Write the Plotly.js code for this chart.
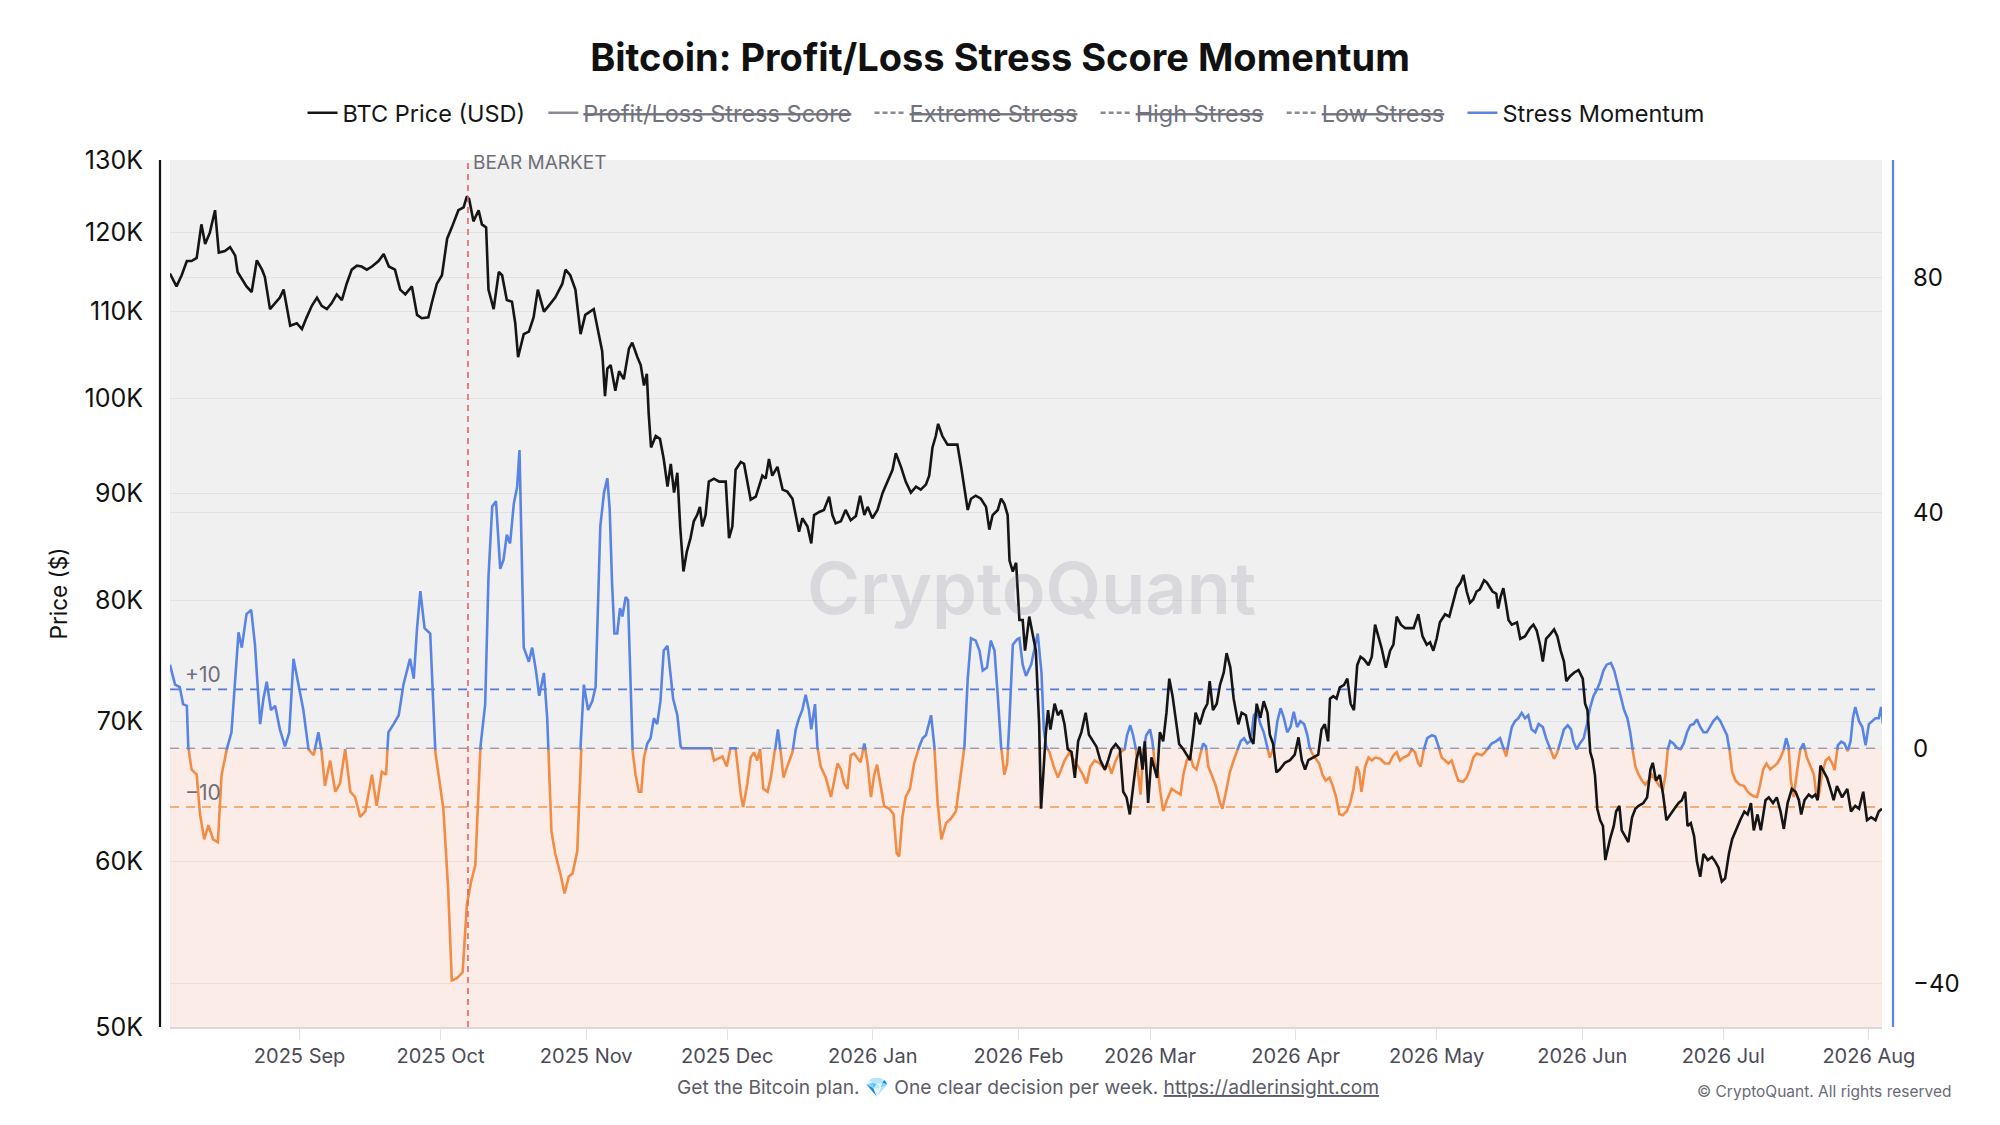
<!DOCTYPE html>
<html>
<head>
<meta charset="utf-8">
<script src="https://cdn.plot.ly/plotly-3.0.1.min.js"></script>
<style>
  html, body { margin: 0; padding: 0; background: #ffffff; }
  #chart { width: 2000px; height: 1125px; }
</style>
</head>
<body>
<div id="chart"></div>
<script>
// day offsets are counted from 2025-08-04 (00:00 UTC)
var startDate = Date.UTC(2025, 7, 4);

// BTC price, thousands of USD
var priceDay = [0.4, 1.8, 2.9, 4.0, 5.0, 6.1, 7.1, 7.9, 8.9, 10.0, 10.8, 12.1, 13.2, 14.3, 14.8, 16.0, 16.7, 17.8, 18.9, 20.0,
  20.6, 21.7, 22.8, 23.8, 24.6, 25.3, 26.0, 27.4, 28.5, 29.5, 30.6, 31.7, 32.7, 33.8, 34.8, 35.9, 37.0, 38.0, 39.1, 40.2,
  41.2, 42.3, 43.4, 44.8, 45.9, 47.0, 48.3, 49.4, 50.5, 51.9, 53.0, 54.0, 55.4, 56.2, 57.2, 58.3, 59.4, 60.4, 61.8, 62.9,
  63.6, 64.1, 65.0, 66.1, 66.8, 67.7, 68.2, 69.3, 70.4, 71.1, 72.1, 73.2, 73.9, 74.5, 75.7, 76.8, 77.8, 78.7, 80.0, 81.0,
  82.4, 83.9, 84.6, 85.6, 86.7, 87.8, 88.8, 90.6, 91.7, 92.4, 93.0, 93.5, 94.2, 95.2, 96.0, 97.0, 98.1, 98.8, 99.9, 100.6,
  101.3, 101.9, 102.3, 102.8, 103.8, 104.7, 105.5, 106.3, 107.0, 107.7, 108.4, 109.0, 109.7, 110.4, 111.2, 111.9, 112.6, 113.2, 113.7, 114.4,
  115.1, 116.2, 117.3, 118.7, 119.4, 120.1, 120.8, 121.9, 122.6, 123.3, 124.0, 125.1, 125.8, 126.5, 127.2, 127.9, 128.6, 129.7, 130.8, 131.8,
  132.9, 133.6, 134.3, 135.0, 136.1, 136.9, 137.5, 138.6, 139.6, 140.7, 141.4, 142.1, 143.2, 144.2, 145.3, 146.4, 147.3, 148.2, 148.9, 149.9,
  151.0, 152.1, 153.1, 154.2, 154.9, 156.0, 157.0, 158.1, 159.2, 160.2, 161.3, 162.0, 162.7, 163.4, 163.9, 164.8, 165.9, 166.9, 168.0, 168.8,
  169.5, 170.2, 170.9, 171.9, 173.0, 174.1, 174.8, 175.5, 176.6, 177.3, 178.0, 178.7, 179.1, 179.8, 180.5, 181.2, 181.9, 182.4, 183.3, 184.2,
  184.7, 185.4, 185.8, 186.2, 186.8, 187.3, 187.8, 188.7, 189.4, 190.1, 190.8, 191.5, 192.3, 193.0, 193.7, 194.4, 195.3, 196.0, 196.9, 197.6,
  198.4, 199.4, 200.1, 200.8, 201.7, 202.6, 203.3, 204.0, 204.7, 205.4, 206.1, 206.8, 207.4, 207.9, 208.6, 209.3, 210.0, 210.5, 211.1, 211.8,
  212.5, 213.1, 213.8, 214.5, 215.2, 216.1, 216.8, 217.5, 218.2, 218.7, 219.6, 220.5, 221.2, 221.7, 222.4, 223.2, 223.9, 224.7, 225.3, 226.1,
  226.8, 227.8, 228.5, 229.4, 230.3, 231.0, 231.7, 232.5, 233.2, 234.0, 234.5, 235.2, 235.9, 236.6, 237.7, 238.8, 239.8, 240.6, 241.3, 242.0,
  242.7, 243.7, 244.8, 245.5, 246.2, 246.9, 247.3, 248.0, 248.7, 249.4, 250.3, 251.0, 251.7, 252.4, 253.1, 253.8, 254.5, 255.5, 256.2, 256.9,
  257.6, 258.3, 259.2, 260.1, 260.8, 261.5, 262.4, 263.3, 264.2, 265.1, 266.1, 267.0, 267.9, 268.6, 269.3, 270.0, 270.7, 271.8, 272.7, 273.4,
  274.3, 275.1, 275.7, 276.4, 277.1, 277.8, 278.5, 279.2, 280.1, 280.7, 281.2, 281.9, 282.7, 283.1, 283.6, 284.2, 284.8, 285.3, 286.0, 287.1,
  287.8, 288.8, 289.9, 290.6, 291.3, 292.0, 292.6, 293.3, 294.2, 295.0, 295.7, 296.4, 297.1, 297.6, 298.4, 299.3, 300.2, 301.1, 301.6, 302.1,
  302.7, 303.2, 303.7, 304.2, 304.8, 305.4, 305.9, 306.4, 306.9, 307.7, 308.2, 308.9, 309.4, 310.1, 310.8, 311.6, 312.3, 313.0, 314.0, 314.8,
  315.5, 316.0, 316.7, 317.5, 318.2, 318.9, 319.7, 320.6, 321.5, 322.2, 322.9, 323.4, 324.1, 324.8, 325.4, 326.1, 326.8, 327.7, 328.6, 329.3,
  330.0, 330.7, 331.4, 332.2, 332.9, 333.8, 334.6, 335.5, 336.2, 336.9, 337.5, 338.3, 339.0, 340.0, 340.7, 341.6, 342.4, 343.2, 343.9, 344.7,
  345.6, 346.4, 347.1, 347.6, 348.3, 349.2, 349.9, 350.6, 351.1, 351.7, 352.4, 353.1, 354.0, 354.5, 355.2, 356.3, 357.4, 358.2, 359.1, 359.9,
  360.8, 361.6, 362.5, 363.4, 364.1, 364.8];
var priceK = [114.7, 113.1, 114.5, 116.3, 116.3, 116.7, 121.1, 118.5, 120.0, 123.0, 117.4, 117.6, 118.1, 117.0, 114.9, 113.8, 113.1, 112.4, 116.4, 115.2,
  114.3, 110.3, 111.0, 111.7, 112.7, 110.3, 108.3, 108.6, 107.9, 109.3, 110.7, 111.7, 110.7, 110.3, 111.0, 112.1, 111.4, 113.4, 115.2, 115.7,
  115.6, 115.2, 115.6, 116.3, 117.2, 115.6, 115.2, 112.7, 112.1, 113.1, 109.6, 109.2, 109.3, 111.2, 113.4, 114.5, 119.2, 120.7, 123.0, 123.4,
  124.9, 124.5, 121.5, 123.0, 121.1, 120.7, 112.7, 110.3, 114.9, 114.5, 111.4, 111.2, 108.6, 104.6, 107.3, 107.6, 109.3, 112.7, 110.0, 110.7,
  111.7, 113.4, 115.2, 114.5, 112.7, 107.3, 109.6, 110.3, 107.3, 105.3, 100.2, 103.3, 103.7, 100.8, 103.0, 102.1, 105.6, 106.3, 104.6, 103.7,
  101.4, 102.7, 98.3, 94.7, 95.9, 95.6, 93.5, 90.7, 93.0, 90.1, 92.1, 86.8, 82.6, 84.4, 85.7, 87.3, 87.9, 88.7, 86.8, 87.9,
  91.2, 91.5, 91.2, 91.2, 85.7, 86.8, 92.4, 93.2, 93.0, 91.2, 89.4, 89.7, 90.7, 91.8, 91.5, 93.5, 91.8, 92.7, 90.4, 90.2,
  89.5, 87.9, 86.3, 87.6, 86.8, 85.2, 87.9, 88.2, 88.4, 89.7, 87.9, 87.1, 87.3, 88.4, 87.4, 87.8, 89.8, 87.9, 88.7, 87.6,
  88.4, 90.1, 91.2, 92.4, 94.1, 92.7, 91.2, 90.1, 90.7, 90.4, 90.9, 91.8, 94.7, 95.9, 97.2, 95.9, 95.0, 95.0, 95.0, 92.7,
  90.7, 88.4, 89.5, 89.8, 89.5, 88.7, 86.5, 87.9, 88.4, 89.5, 89.0, 87.9, 83.6, 82.6, 83.4, 78.3, 78.3, 75.7, 78.6, 76.7,
  75.7, 69.8, 63.6, 65.6, 69.0, 70.9, 69.4, 71.4, 70.5, 70.9, 69.8, 67.9, 67.7, 65.8, 68.5, 69.2, 70.7, 69.0, 68.5, 68.1,
  67.1, 66.4, 67.1, 67.9, 68.3, 67.9, 64.8, 64.4, 63.2, 65.0, 67.1, 68.1, 66.4, 68.5, 64.0, 67.3, 66.4, 65.8, 69.2, 68.5,
  70.7, 73.4, 72.0, 70.3, 68.3, 67.9, 67.5, 67.1, 69.0, 70.7, 69.8, 70.9, 71.4, 73.2, 70.9, 71.4, 72.9, 73.9, 75.5, 74.3,
  71.8, 69.8, 70.7, 70.5, 68.8, 68.3, 71.4, 70.3, 71.6, 70.7, 69.0, 68.3, 66.2, 66.4, 66.9, 67.1, 67.5, 68.8, 67.1, 66.4,
  67.1, 67.3, 67.5, 69.4, 69.8, 68.5, 71.8, 72.0, 71.8, 72.7, 72.9, 73.4, 71.4, 70.9, 74.5, 75.2, 75.0, 74.5, 75.2, 77.9,
  76.9, 75.9, 74.3, 75.7, 76.2, 78.6, 77.9, 77.6, 77.6, 77.6, 78.8, 76.9, 76.2, 76.4, 75.7, 76.7, 78.1, 78.8, 78.6, 79.8,
  81.1, 81.6, 82.3, 80.8, 79.8, 80.1, 80.8, 81.0, 81.8, 81.6, 81.3, 80.8, 80.6, 79.3, 80.3, 81.1, 79.6, 78.3, 77.9, 78.1,
  76.7, 76.9, 77.6, 77.9, 77.4, 76.2, 74.8, 76.7, 77.1, 77.5, 76.9, 75.7, 74.8, 73.2, 73.6, 73.9, 74.1, 73.4, 71.4, 70.9,
  67.7, 67.1, 66.0, 63.6, 62.8, 62.4, 60.1, 60.9, 61.5, 62.4, 63.4, 63.8, 62.1, 61.7, 61.3, 63.0, 63.6, 63.8, 64.0, 64.4,
  66.4, 66.9, 65.6, 66.0, 64.6, 62.8, 63.2, 63.6, 64.0, 64.2, 64.8, 62.4, 62.6, 61.7, 60.0, 59.0, 60.5, 60.1, 60.3, 60.0,
  59.6, 58.7, 58.9, 60.5, 61.5, 62.2, 62.8, 63.4, 63.2, 64.0, 62.1, 63.2, 62.1, 64.2, 64.4, 64.0, 64.4, 63.4, 62.2, 64.0,
  65.0, 64.8, 64.2, 63.2, 64.2, 64.6, 64.4, 64.6, 64.2, 66.7, 66.2, 65.8, 64.8, 64.2, 65.2, 64.4, 65.0, 63.4, 63.8, 63.6,
  64.8, 62.8, 63.0, 62.8, 63.4, 63.6];

// Stress Momentum
var momentumDay = [0.4, 1.5, 2.5, 3.2, 4.0, 4.3, 5.0, 6.1, 6.8, 7.7, 8.6, 9.6, 10.6, 11.4, 12.5, 13.5, 14.3, 15.0, 15.7, 16.7,
  17.7, 18.5, 19.6, 20.3, 21.0, 21.9, 22.8, 23.8, 24.9, 25.8, 26.7, 27.8, 28.8, 29.9, 31.0, 32.0, 32.7, 33.4, 34.5, 35.6,
  36.6, 37.7, 38.8, 39.8, 40.9, 42.0, 43.4, 44.4, 45.5, 46.4, 46.9, 48.0, 49.1, 50.1, 51.5, 52.3, 53.0, 53.7, 54.6, 55.8,
  56.9, 57.6, 58.6, 59.6, 60.4, 61.5, 62.7, 63.6, 64.5, 65.4, 66.5, 67.5, 68.2, 69.0, 69.8, 70.7, 71.4, 72.1, 72.8, 73.6,
  74.3, 74.8, 75.7, 76.8, 77.5, 78.3, 79.0, 80.0, 80.7, 81.6, 82.4, 83.5, 84.4, 85.3, 86.1, 87.1, 87.8, 88.5, 89.4, 90.3,
  91.0, 92.0, 92.8, 93.5, 94.0, 94.5, 95.0, 95.6, 96.2, 96.7, 97.4, 97.9, 98.4, 98.9, 99.5, 100.2, 100.7, 101.3, 102.0, 102.7,
  103.4, 104.1, 104.8, 105.5, 106.3, 107.0, 107.5, 108.4, 109.1, 109.4, 115.6, 116.2, 117.3, 118.0, 118.9, 119.7, 120.8, 121.3, 121.9, 122.4,
  123.3, 124.0, 124.7, 125.4, 126.0, 126.7, 127.6, 128.3, 129.0, 129.8, 130.4, 131.0, 131.8, 132.9, 133.6, 134.3, 135.0, 135.7, 136.4, 136.9,
  137.7, 138.2, 138.9, 140.0, 141.1, 141.8, 142.5, 143.2, 143.9, 144.6, 145.3, 146.0, 146.7, 147.4, 148.2, 148.9, 149.6, 150.3, 150.9, 151.6,
  152.4, 153.5, 154.4, 155.1, 155.6, 156.3, 157.0, 157.9, 158.8, 159.9, 160.6, 161.3, 162.4, 163.1, 163.8, 164.6, 165.6, 166.6, 167.7, 168.8,
  169.5, 170.2, 170.9, 171.9, 172.7, 173.4, 174.3, 175.1, 175.9, 176.6, 177.3, 178.0, 178.6, 179.1, 179.8, 180.7, 181.2, 181.9, 182.6, 183.7,
  184.4, 185.1, 185.9, 186.4, 186.9, 187.6, 188.5, 189.4, 190.1, 190.8, 191.9, 192.8, 193.7, 194.7, 195.5, 196.3, 197.2, 198.3, 199.4, 200.1,
  200.8, 201.7, 202.6, 203.6, 204.1, 204.8, 205.4, 206.0, 206.5, 207.0, 207.5, 208.2, 209.0, 209.5, 210.0, 210.7, 211.2, 211.8, 212.6, 213.6,
  214.5, 215.5, 216.1, 216.8, 217.5, 218.2, 218.9, 219.6, 220.3, 220.9, 221.4, 222.1, 223.0, 223.9, 224.4, 225.3, 226.0, 226.8, 227.6, 228.3,
  229.0, 229.7, 230.4, 231.1, 231.8, 232.5, 233.2, 233.9, 234.5, 235.4, 236.1, 236.8, 237.5, 238.2, 238.9, 239.6, 240.3, 241.0, 241.8, 242.5,
  242.9, 243.4, 244.1, 245.0, 245.7, 246.4, 247.2, 247.9, 248.6, 249.3, 250.0, 250.9, 251.6, 252.3, 253.0, 253.5, 254.0, 254.8, 255.5, 256.2,
  256.9, 258.0, 259.0, 259.9, 260.8, 261.5, 262.2, 262.9, 264.0, 264.7, 265.4, 266.1, 266.6, 267.3, 268.0, 269.0, 269.7, 270.4, 271.1, 271.8,
  272.5, 273.2, 273.9, 274.6, 275.6, 276.4, 277.1, 277.8, 278.5, 279.6, 280.3, 281.0, 281.7, 282.7, 283.5, 284.1, 284.8, 285.3, 286.0, 286.7,
  287.4, 288.1, 288.8, 289.5, 290.2, 291.0, 291.7, 292.6, 293.3, 294.2, 295.0, 295.7, 296.4, 297.1, 297.9, 298.6, 299.1, 299.8, 300.5, 301.3,
  302.0, 302.7, 303.4, 304.1, 304.8, 305.5, 306.2, 307.1, 307.8, 308.5, 309.2, 309.9, 310.6, 311.2, 311.8, 312.3, 313.0, 313.7, 314.4, 315.1,
  315.8, 316.5, 317.4, 318.2, 318.7, 319.2, 319.7, 320.4, 321.1, 321.9, 322.6, 323.3, 324.0, 324.7, 325.4, 326.1, 326.8, 327.5, 328.2, 328.9,
  329.7, 330.4, 331.1, 331.8, 332.4, 332.9, 333.6, 334.5, 335.4, 336.2, 336.9, 337.6, 338.2, 338.8, 339.5, 340.2, 341.0, 341.7, 342.5, 343.2,
  343.9, 344.4, 344.9, 345.4, 346.0, 346.7, 347.4, 348.1, 348.8, 349.6, 350.3, 350.8, 351.3, 352.0, 352.8, 353.5, 354.2, 354.7, 355.4, 356.1,
  356.8, 357.5, 358.1, 358.6, 359.1, 359.9, 360.6, 361.3, 362.0, 362.7, 363.4, 364.1, 364.6, 365.0];
var momentumValue = [14.2, 10.8, 10.4, 7.5, 7.2, 0.3, -3.6, -4.5, -11.2, -15.5, -13.1, -15.5, -16.0, -4.5, -0.2, 2.7, 11.8, 19.7, 17.1, 22.8,
  23.5, 17.6, 4.1, 8.4, 11.3, 6.5, 7.2, 3.2, 0.3, 2.7, 15.2, 10.4, 6.5, -0.2, -1.2, 2.7, -0.7, -6.4, -2.1, -7.4,
  -6.0, -0.2, -7.4, -8.3, -11.7, -10.7, -4.5, -9.8, -4.0, -4.5, 2.7, 4.1, 5.6, 10.8, 15.2, 11.8, 20.4, 26.7, 20.4, 19.5,
  -0.7, -4.5, -10.3, -23.7, -39.5, -39.1, -38.1, -26.6, -22.7, -19.9, 0.3, 7.5, 29.1, 41.1, 42.0, 30.5, 32.0, 36.3, 34.8, 41.6,
  44.4, 50.7, 17.1, 14.7, 17.1, 13.2, 8.9, 12.8, 5.1, -14.1, -17.9, -21.3, -24.7, -21.8, -21.3, -17.5, 0.3, 10.8, 6.5, 8.0,
  10.4, 37.7, 43.5, 45.9, 40.6, 28.1, 19.5, 19.5, 23.8, 22.4, 25.7, 25.2, 10.8, -0.7, -4.5, -7.4, -7.4, -1.6, 0.8, 1.7,
  5.1, 4.1, 8.0, 16.6, 17.4, 11.8, 8.4, 5.6, 0.3, 0.0, 0.0, -2.1, -1.6, -1.4, -3.1, 0.0, 0.0, -3.6, -7.9, -10.0,
  -6.0, -1.6, -0.7, -2.1, -0.2, -6.9, -7.4, -5.0, -1.6, 3.2, -0.7, -5.0, -3.1, -0.7, 3.2, 5.1, 6.5, 9.1, 6.5, 3.2,
  7.5, 0.3, -3.1, -5.0, -8.3, -5.5, -2.6, -3.6, -6.0, -6.9, -1.2, -0.9, -1.6, -2.4, 0.8, -2.6, -8.3, -4.5, -2.8, -6.4,
  -9.8, -10.3, -11.2, -17.9, -18.4, -11.7, -8.3, -6.9, -2.6, 0.3, 1.7, 2.2, 5.6, 0.3, -9.3, -15.5, -12.7, -12.0, -10.7, -4.0,
  0.3, 11.8, 18.7, 18.3, 16.6, 13.2, 13.7, 18.3, 16.6, 8.9, 0.3, -4.5, -2.6, 5.1, 17.6, 18.5, 18.7, 14.2, 12.3, 14.2,
  17.1, 19.5, 12.8, 3.2, 0.3, -0.7, -3.1, -5.0, -3.6, -2.1, -0.7, -2.1, -3.1, -4.5, -6.0, -3.1, -2.1, -2.6, -3.6, -2.6,
  -4.3, -2.1, -0.7, -0.2, 2.2, 3.9, 2.2, -0.2, -4.5, -7.9, -0.7, 2.2, 3.2, 1.2, -2.6, -4.0, -7.4, -10.7, -8.8, -6.9,
  -7.4, -7.9, -4.5, -2.1, -1.2, -3.1, -3.6, -1.6, 0.8, 0.3, -3.1, -4.5, -6.4, -9.3, -10.3, -6.9, -4.0, -2.1, -0.2, 1.2,
  1.7, 0.8, 1.2, 5.6, 6.2, 4.1, 2.7, 0.3, -1.6, 0.3, 4.6, 6.8, 5.1, 2.7, 3.6, 6.2, 3.6, 4.6, 4.1, 2.2,
  0.3, -0.7, -1.6, -2.6, -4.5, -5.5, -5.0, -6.4, -8.3, -11.2, -11.4, -10.7, -9.3, -6.9, -3.1, -4.0, -7.4, -3.1, -1.6, -2.1,
  -1.6, -1.8, -2.6, -2.6, -1.2, -0.7, -2.1, -1.6, -1.2, -0.2, -0.7, -2.6, -3.1, -0.2, 1.7, 2.2, 2.0, 0.3, -1.6, -2.1,
  -2.6, -2.1, -4.0, -5.5, -5.7, -5.0, -3.6, -1.6, -0.9, -1.2, -0.7, 0.1, 0.8, 1.2, 1.7, 0.3, -1.4, 0.8, 3.6, 4.6,
  5.1, 6.0, 5.1, 5.6, 3.2, 2.7, 4.1, 3.6, 1.7, -0.2, -1.8, -0.7, 1.2, 3.2, 3.9, 3.2, 1.2, -0.2, 0.8, 1.7,
  4.1, 7.0, 8.9, 9.9, 11.3, 13.2, 14.2, 14.5, 13.2, 10.8, 8.4, 6.5, 5.1, 2.7, -0.7, -3.1, -4.5, -5.5, -6.2, -5.5,
  -4.5, -5.3, -6.4, -6.9, -4.5, -0.2, 1.2, 0.8, 0.1, -0.2, 0.8, 2.7, 3.9, 4.1, 4.9, 3.6, 2.7, 2.7, 3.6, 4.6,
  5.3, 4.6, 3.4, 2.2, -0.7, -4.0, -5.5, -6.2, -6.4, -7.4, -7.9, -8.2, -8.3, -6.4, -3.6, -2.6, -3.6, -3.1, -2.6, -1.6,
  -0.2, 1.7, 0.3, -5.5, -8.3, -4.0, -0.2, 0.8, -1.6, -3.1, -4.5, -7.9, -8.3, -4.5, -2.1, -1.6, -2.6, -3.7, 0.5, 1.1,
  0.8, -0.5, 1.2, 5.1, 7.0, 4.6, 3.6, 0.5, 4.1, 4.6, 5.1, 5.1, 7.0, 4.1];

// axis ticks and reference lines
var priceTicks = [50000, 60000, 70000, 80000, 90000, 100000, 110000, 120000, 130000];
var priceTickText = ['50K', '60K', '70K', '80K', '90K', '100K', '110K', '120K', '130K'];
var momentumTicksUp = [0, 40, 80];
var momentumTicksDown = [-40];
var stressLines = [10, 0, -10];
var bearMarketDate = '2025-10-06 20:00';

function toDate(day) {
  return new Date(startDate + day * 86400000).toISOString().slice(0, 19).replace('T', ' ');
}

var priceX = priceDay.map(toDate);
var priceY = priceK.map(function (v) { return v * 1000; });
var momentumX = momentumDay.map(toDate);

var FONT = 'Inter, "Noto Sans", sans-serif';
var BLUE = '#5a84e4';
var ORANGE = '#f28c45';
var GAP = '\u00A0\u00A0';   // extra room between legend entries

// momentum axes: the blue part lives in the upper subplot, the orange part in the lower one,
// so each colour gets clipped at the zero line
var momTop = 100, momBottom = -47.4;
var zeroFrac = -momBottom / (momTop - momBottom);
var pad = 0.0018;
var upperLow = -pad * momTop / (1 - zeroFrac);

// plot box in pixels, used to place the footer texts
var M = { l: 170, r: 118, t: 160, b: 98 };
var plotW = 2000 - M.l - M.r, plotH = 1125 - M.t - M.b;
function px(x) { return (x - M.l) / plotW; }
function py(y) { return (1125 - M.b - y) / plotH; }

// series that are switched off in the original: legend entry only, nothing plotted
function hiddenTrace(txt, dash) {
  return {
    x: [null], y: [null], xaxis: 'x', yaxis: 'y2', type: 'scatter', mode: 'lines',
    name: '<span style="color:#72727d"><s>' + txt + '</s>' + GAP + '</span>', hoverinfo: 'skip',
    line: { color: '#8a8a96', width: 2.5, dash: dash }
  };
}

var traces = [
  {
    x: priceX, y: priceY, xaxis: 'x', yaxis: 'y3',
    type: 'scatter', mode: 'lines', name: 'BTC Price (USD)' + GAP,
    line: { color: '#151515', width: 2.6 }
  },
  hiddenTrace('Profit/Loss Stress Score', 'solid'),
  hiddenTrace('Extreme Stress', '5px,3px'),
  hiddenTrace('High Stress', '5px,3px'),
  hiddenTrace('Low Stress', '5px,3px'),
  {
    x: momentumX, y: momentumValue, xaxis: 'x', yaxis: 'y2',
    type: 'scatter', mode: 'lines', name: 'Stress Momentum',
    line: { color: BLUE, width: 2.6 }
  },
  {
    x: momentumX, y: momentumValue, xaxis: 'x', yaxis: 'y',
    type: 'scatter', mode: 'lines', name: 'Stress Momentum', showlegend: false,
    line: { color: ORANGE, width: 2.6 }
  }
];

var grid = 'rgba(0,0,0,0.055)';

var layout = {
  width: 2000,
  height: 1125,
  margin: M,
  paper_bgcolor: '#ffffff',
  plot_bgcolor: 'rgba(0,0,0,0)',
  font: { family: FONT, color: '#111111' },
  showlegend: true,
  title: {
    text: 'Bitcoin: Profit/Loss Stress Score Momentum',
    font: { family: FONT, size: 38, weight: 700, color: '#111111' },
    x: 0.5, xref: 'container', xanchor: 'center',
    y: 1 - 58 / 1125, yref: 'container', yanchor: 'middle'
  },
  legend: {
    orientation: 'h',
    x: 0.503, xref: 'container', xanchor: 'center',
    y: 1 - 113 / 1125, yref: 'container', yanchor: 'middle',
    font: { family: FONT, size: 23.5, color: '#151515' },
    itemwidth: 30,
    bgcolor: 'rgba(0,0,0,0)'
  },
  xaxis: {
    type: 'date',
    anchor: 'y3',
    range: ['2025-08-04 10:00', '2026-08-03 19:00'],
    tick0: '2025-09-01',
    dtick: 'M1',
    tickformat: '%Y %b',
    ticks: 'outside',
    ticklen: 11,
    tickcolor: '#e2e2e6',
    ticklabelstandoff: -1,
    tickfont: { family: FONT, size: 20, color: '#4b4b57' },
    showgrid: false,
    zeroline: false,
    showline: true,
    linecolor: '#dcd7de',
    linewidth: 2
  },
  yaxis: {
    domain: [0, zeroFrac],
    range: [momBottom, 0],
    anchor: 'x',
    side: 'right',
    tickvals: momentumTicksDown,
    tickfont: { family: FONT, size: 24, color: '#111111' },
    ticklabelstandoff: 30,
    showgrid: true,
    gridcolor: grid,
    zeroline: false,
    showline: false
  },
  yaxis2: {
    domain: [zeroFrac - pad, 1],
    range: [upperLow, momTop],
    anchor: 'x',
    side: 'right',
    tickvals: momentumTicksUp,
    tickfont: { family: FONT, size: 24, color: '#111111' },
    ticklabelstandoff: 30,
    showgrid: true,
    gridcolor: grid,
    zeroline: false,
    showline: false
  },
  yaxis3: {
    domain: [0, 1],
    type: 'log',
    range: [Math.log10(50000), Math.log10(130000)],
    anchor: 'x',
    side: 'left',
    tickvals: priceTicks,
    ticktext: priceTickText,
    tickfont: { family: FONT, size: 25, color: '#111111' },
    ticklabelstandoff: 26,
    showgrid: true,
    gridcolor: grid,
    zeroline: false,
    showline: false,
    title: {
      text: 'Price ($)',
      font: { family: FONT, size: 22.5, color: '#111111' },
      standoff: 10
    }
  },
  shapes: [
    // background bands above / below zero momentum
    { type: 'rect', layer: 'below', xref: 'paper', x0: 0, x1: 1, yref: 'y2', y0: 0, y1: momTop,
      fillcolor: '#f0f0f0', line: { width: 0 } },
    { type: 'rect', layer: 'below', xref: 'paper', x0: 0, x1: 1, yref: 'y', y0: momBottom, y1: 0,
      fillcolor: '#fcece8', line: { width: 0 } },
    // stress reference lines
    { type: 'line', layer: 'below', xref: 'paper', x0: 0, x1: 1, yref: 'y2', y0: stressLines[0], y1: stressLines[0],
      line: { color: '#5679d8', width: 1.6, dash: '9px,7px' } },
    { type: 'line', layer: 'below', xref: 'paper', x0: 0, x1: 1, yref: 'y2', y0: stressLines[1], y1: stressLines[1],
      line: { color: '#a8a5b6', width: 1.6, dash: '9px,7px' } },
    { type: 'line', layer: 'below', xref: 'paper', x0: 0, x1: 1, yref: 'y', y0: stressLines[2], y1: stressLines[2],
      line: { color: '#f19550', width: 1.6, dash: '9px,7px' } },
    // bear market marker
    { type: 'line', xref: 'x', x0: bearMarketDate, x1: bearMarketDate, yref: 'paper', y0: 0, y1: 1,
      line: { color: '#e46464', width: 1.6, dash: '6px,5px' } },
    // offset axis lines
    { type: 'line', xref: 'paper', x0: px(160), x1: px(160), yref: 'paper', y0: 0, y1: 1,
      line: { color: '#111111', width: 2.2 } },
    { type: 'line', xref: 'paper', x0: px(1893), x1: px(1893), yref: 'paper', y0: 0, y1: 1,
      line: { color: BLUE, width: 2.2 } }
  ],
  annotations: [
    { text: 'CryptoQuant', xref: 'paper', yref: 'paper', x: px(1031), y: py(587), showarrow: false,
      font: { family: FONT, size: 72, weight: 600, color: 'rgba(110,110,140,0.18)' } },
    { text: 'BEAR MARKET', xref: 'x', yref: 'paper', x: bearMarketDate, y: 1, xanchor: 'left', yanchor: 'middle',
      xshift: 3, yshift: -2, showarrow: false,
      font: { family: FONT, size: 19, color: '#6e6e7a' } },
    { text: '+10', xref: 'paper', yref: 'y2', x: px(183), y: stressLines[0], xanchor: 'left', yanchor: 'bottom',
      showarrow: false, font: { family: FONT, size: 21, color: '#6e6e7a' } },
    { text: '\u221210', xref: 'paper', yref: 'y', x: px(183), y: stressLines[2], xanchor: 'left', yanchor: 'bottom',
      showarrow: false, font: { family: FONT, size: 21, color: '#6e6e7a' } },
    { text: 'Get the Bitcoin plan. \uD83D\uDC8E One clear decision per week. <u>https://adlerinsight.com</u>',
      xref: 'paper', yref: 'paper', x: px(1028), y: py(1087), xanchor: 'center', yanchor: 'middle',
      showarrow: false, font: { family: FONT, size: 19.2, color: '#5c5c68' } },
    { text: '\u00A9 CryptoQuant. All rights reserved', xref: 'paper', yref: 'paper',
      x: px(1954), y: py(1091), xanchor: 'right', yanchor: 'middle',
      showarrow: false, font: { family: FONT, size: 15.5, color: '#6a6a76' } }
  ]
};

Plotly.newPlot('chart', traces, layout, { staticPlot: true, displayModeBar: false });
</script>
</body>
</html>
